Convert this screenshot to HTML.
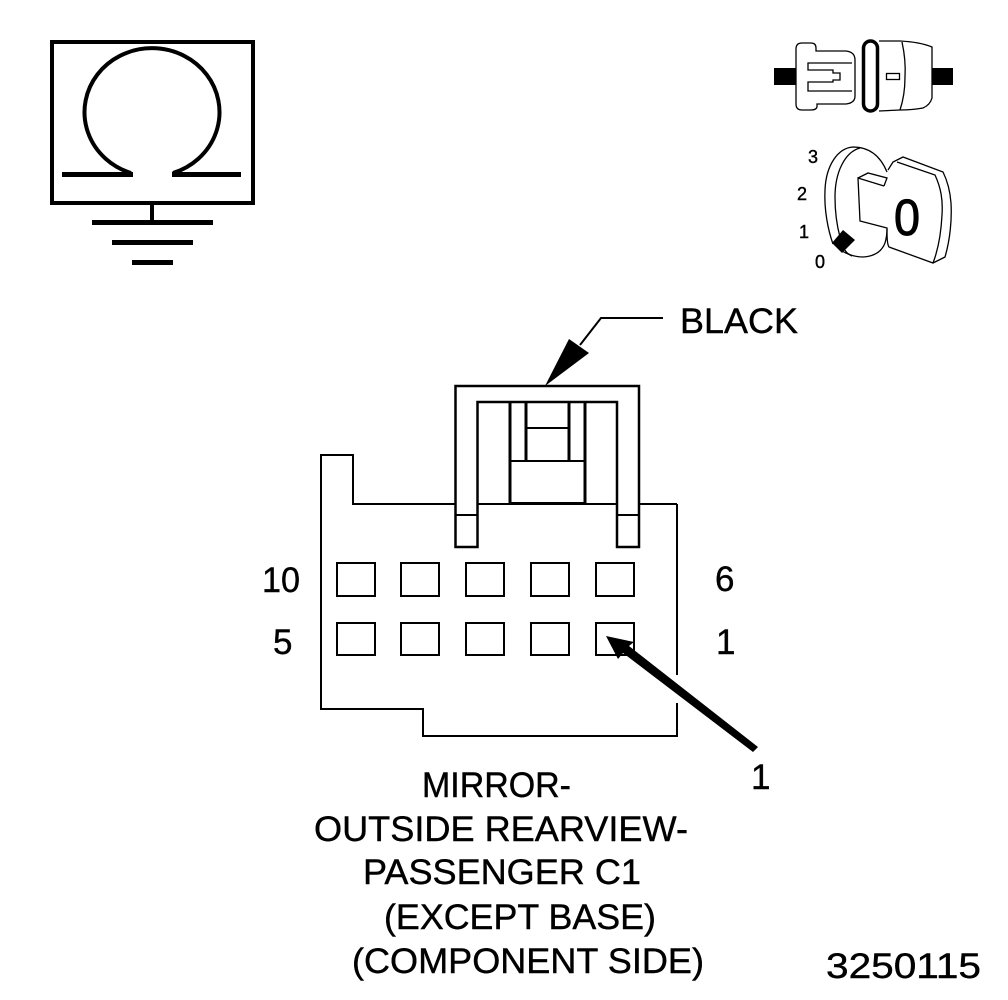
<!DOCTYPE html>
<html><head><meta charset="utf-8"><style>
html,body{margin:0;padding:0;background:#fff}
svg{display:block}
text{font-family:"Liberation Sans",sans-serif;fill:#000;stroke:#000;stroke-width:.4px}
</style></head><body>
<svg width="1008" height="1000" viewBox="0 0 1008 1000" xmlns="http://www.w3.org/2000/svg">
<g fill="none" stroke="#000" stroke-width="4">
<rect x="52" y="42" width="201" height="161"/>
<path d="M131 173A67.500 64 0 1 1 173 173" stroke-width="4"/>
<path d="M62 174.500H133M172 174.500H241" stroke-width="5"/>
<path d="M152 203V222"/>
<path d="M92 222.500H213M112 242.500H193M132 262.500H173" stroke-width="5"/>
</g>
<g fill="none" stroke="#000" stroke-width="1.300">
<rect x="774" y="68" width="22" height="17" fill="#000" stroke="none"/>
<rect x="932" y="68" width="21" height="17" fill="#000" stroke="none"/>
<path d="M802 43H811Q816 43 816 48V51H846Q855 52 855 60V96Q855 103 846 104H817V107Q816 110 811 110H802Q796 110 796 104V49Q796 43 802 43Z"/>
<path d="M852 63H808V70H833V73H840V80H833V82H808V91H852"/>
<path d="M879 41H900Q920 42 932 47V98Q930 105 923 108Q912 110 900 110L879 111"/>
<path d="M902 42Q906 60 905 77Q905 95 900 110"/>
<rect x="886.500" y="73.500" width="13" height="6"/>
<rect x="863.500" y="41" width="14" height="70" rx="7" stroke-width="3.500"/>
<path d="M887 172C880 155 868 147 853 147C838 148 826 165 825 190C824 210 828 230 833 244"/>
<path d="M860 148C845 152 835 172 835 197C835 212 837 226 840 237"/>
<path d="M842 251Q852 257 863 257Q880 256 885 243Q887 236 887 229"/>
<path d="M852 256Q846 253 845 250"/>
<path d="M884 186L858 178L860 221L887 228C887 236 887 244 889 247L933 263L945 257C950 240 952 220 951 203C950 190 947 180 943 172L903 157L893 162L888 170"/>
<path d="M858 178L868 173L887 178L884 186"/>
<path d="M897 162L935 175C941 188 943 200 942 215C941 235 938 250 933 263"/>
</g>
<path d="M832 243L843 230L855 240L842 253Z" fill="#000"/>
<text x="894" y="235" font-size="51" textLength="26" lengthAdjust="spacingAndGlyphs" style="stroke-width:1px">0</text>
<text x="808" y="163" font-size="18">3</text>
<text x="797" y="200" font-size="18">2</text>
<text x="799" y="238" font-size="18">1</text>
<text x="815" y="268" font-size="18">0</text>

<g fill="none" stroke="#000" stroke-width="2">
<path d="M677 504V675M677 703V736H423V709H321V455H353V504H455M639 504H677"/>
<path d="M455 504H639"/>
<path d="M455.500 547V386H639V547H617V402H477.500V547Z" fill="#fff" stroke-width="2.500"/>
<path d="M456 515H477M617 515H639"/>
<path d="M510 402V503M585 402V503M526 402V460M569 402V460" stroke-width="3"/>
<path d="M526 428H569M510 461H585" />
<path d="M509 503.500H586" stroke-width="3"/>
<path d="M663 318H601L580 345"/>
<rect x="337" y="563" width="38" height="33"/><rect x="401" y="563" width="38" height="33"/><rect x="466" y="563" width="38" height="33"/><rect x="531" y="563" width="38" height="33"/><rect x="596" y="563" width="38" height="33"/>
<rect x="337" y="623" width="38" height="32"/><rect x="401" y="623" width="38" height="32"/><rect x="466" y="623" width="38" height="32"/><rect x="531" y="623" width="38" height="32"/><rect x="596" y="623" width="38" height="32"/>
</g>
<path d="M545 386L569 339L589 353Z" fill="#000"/>
<path d="M606 636L634 642L629 646L758 747L753 752L623 653L618 659Z" fill="#000"/>

<text x="680" y="333" font-size="35" textLength="118" lengthAdjust="spacingAndGlyphs">BLACK</text>
<text x="262" y="592" font-size="35" textLength="38" lengthAdjust="spacingAndGlyphs">10</text>
<text x="273" y="654" font-size="35">5</text>
<text x="715" y="591" font-size="35">6</text>
<text x="716" y="654" font-size="35">1</text>
<text x="751" y="789" font-size="35">1</text>
<text x="422" y="797" font-size="35" textLength="149" lengthAdjust="spacingAndGlyphs">MIRROR-</text>
<text x="314" y="841" font-size="35" textLength="374" lengthAdjust="spacingAndGlyphs">OUTSIDE REARVIEW-</text>
<text x="363" y="884" font-size="35" textLength="278" lengthAdjust="spacingAndGlyphs">PASSENGER C1</text>
<text x="384" y="929" font-size="35" textLength="272" lengthAdjust="spacingAndGlyphs">(EXCEPT BASE)</text>
<text x="352" y="973" font-size="35" textLength="352" lengthAdjust="spacingAndGlyphs">(COMPONENT SIDE)</text>
<text x="826" y="978" font-size="35" textLength="155" lengthAdjust="spacingAndGlyphs">3250115</text>
</svg>
</body></html>
